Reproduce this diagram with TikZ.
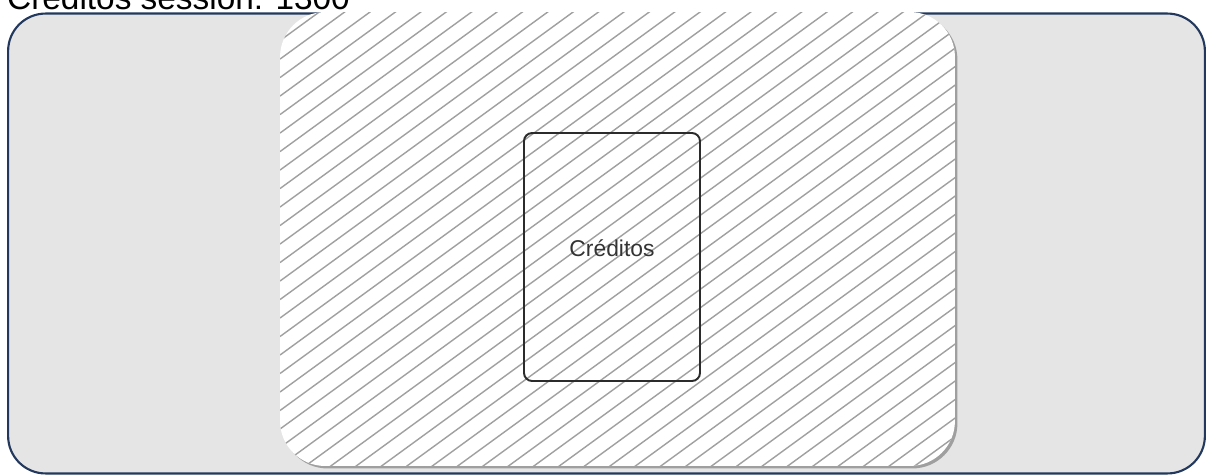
\documentclass[tikz,border=0pt]{standalone}
\usepackage{fontspec}
\setmainfont{Liberation Sans}
\setsansfont{Liberation Sans}
\usetikzlibrary{positioning,shadows}
\definecolor{navyline}{HTML}{22385C}
\definecolor{canvas}{HTML}{E5E5E5}
\definecolor{hatch}{HTML}{A0A0A0}
\definecolor{boxline}{HTML}{2B2B2B}

\begin{document}
\begin{tikzpicture}[x=0.02cm, y=-0.02cm, every node/.style={font=\sffamily}, frame/.style={draw=navyline,line width=1.2pt,fill=canvas,rounded corners=0.75cm,minimum width=23.94cm,minimum height=9.2cm,inner sep=0pt}, panel/.style={fill=white,rounded corners=0.9cm,minimum width=13.5cm,minimum height=9.08cm,inner sep=0pt,drop shadow={shadow xshift=0.5mm,shadow yshift=-0.5mm,opacity=0.3,fill=black}, path picture={\foreach \k in {-28,...,70} {\draw[hatch,line width=0.8pt] ([yshift=-\k*0.37cm]path picture bounding box.south west) -- ++(14cm,10.2cm);}}}, cardbox/.style={draw=boxline,line width=1.1pt,rounded corners=0.16cm,minimum width=3.52cm,minimum height=4.96cm,inner sep=0pt}]
\useasboundingbox (0,0) rectangle (1208,474);
\node[anchor=base west,font=\fontsize{19}{21}\selectfont] (title) at (1,9) {Créditos session: 1300};
\node[frame] (frame) at (606.5,243.5) {};
\node[panel] (panel) at (617.5,239) {};
\node[cardbox] (card) at (612,257) {};
\node[font=\fontsize{13}{15}\selectfont,text=black!80] (cardlbl) at ([yshift=0.17cm]card.center) {Créditos};
\end{tikzpicture}
\end{document}
